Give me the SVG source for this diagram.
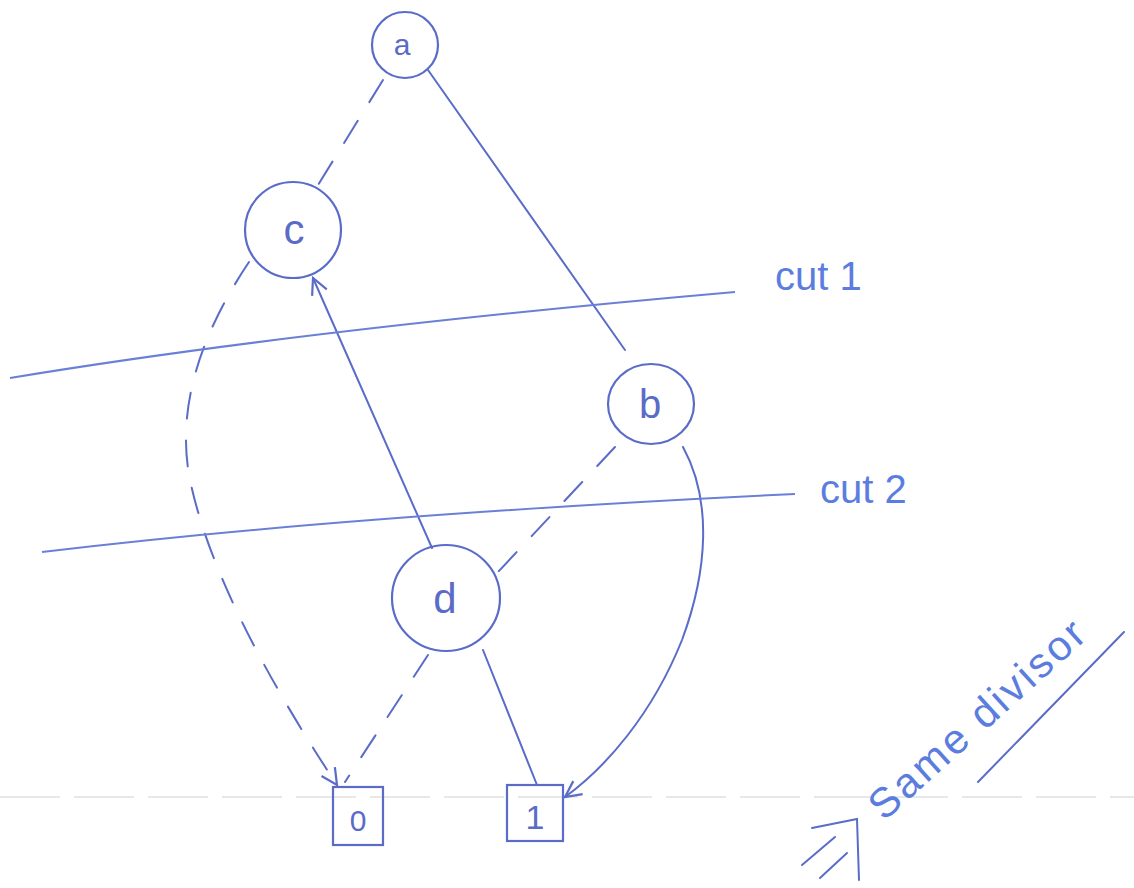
<svg xmlns="http://www.w3.org/2000/svg" width="1134" height="888" viewBox="0 0 1134 888">
<defs>
<style>
.n{fill:none;stroke:#5a6cc8;stroke-width:2.2}
.e{fill:none;stroke:#5a6cc8;stroke-width:2;stroke-linecap:round}
.d{stroke-dasharray:26 22}
.cut{fill:none;stroke:#6a80d6;stroke-width:2}
.t{font-family:"Liberation Sans",sans-serif;fill:#5b7de0}
.lbl{font-family:"Liberation Sans",sans-serif;fill:#5a6cc8;text-anchor:middle}
</style>
<marker id="ar" viewBox="0 0 20 20" refX="18" refY="10" markerWidth="20" markerHeight="20" markerUnits="userSpaceOnUse" orient="auto">
<path d="M2 2 L18 10 L2 18" fill="none" stroke="#5a6cc8" stroke-width="2.2"/>
</marker>
</defs>
<rect width="1134" height="888" fill="#ffffff"/>
<line x1="0" y1="797" x2="1134" y2="797" stroke="#e8e8e8" stroke-width="2" stroke-dasharray="60 14"/>
<g id="connectors">
<path class="e d" d="M383 80 L318 185"/>
<path class="e" d="M428 70 L625 350"/>
<path class="e d" d="M249 262 Q170 380 190 480 Q215 600 337 785" marker-end="url(#ar)"/>
<path class="e" d="M432 548 L313 278" marker-end="url(#ar)"/>
<path class="e d" d="M615 447 L498 572"/>
<path class="e d" d="M428 655 L345 782"/>
<path class="e" d="M483 650 L537 785"/>
<path class="e" d="M683 447 C712 500 708 570 682 640 C652 715 605 768 565 797" marker-end="url(#ar)"/>
</g>
<g id="cuts">
<path class="cut" d="M10 378 Q300 330 735 292"/>
<path class="cut" d="M42 552 Q350 515 795 494"/>
<text class="t" x="775" y="290" font-size="40">cut 1</text>
<text class="t" x="820" y="503" font-size="40">cut 2</text>
</g>
<g id="node-a">
<circle class="n" cx="405" cy="45" r="33"/>
<text class="lbl" x="402" y="55" font-size="30">a</text>
</g>
<g id="node-c">
<circle class="n" cx="293" cy="230" r="48"/>
<text class="lbl" x="294" y="244" font-size="42">c</text>
</g>
<g id="node-b">
<ellipse class="n" cx="651" cy="404" rx="43" ry="40"/>
<text class="lbl" x="650" y="418" font-size="40">b</text>
</g>
<g id="node-d">
<ellipse class="n" cx="446" cy="598" rx="54" ry="53"/>
<text class="lbl" x="445" y="613" font-size="42">d</text>
</g>
<g id="node-0">
<rect class="n" x="333" y="787" width="50" height="58"/>
<text class="lbl" x="358" y="831" font-size="30">0</text>
</g>
<g id="node-1">
<rect class="n" x="507" y="785" width="56" height="56"/>
<text class="lbl" x="535" y="829" font-size="34">1</text>
</g>
<g id="note">
<text class="t" font-size="42" transform="translate(884 822) rotate(-42)" textLength="275">Same divisor</text>
<line class="e" x1="978" y1="782" x2="1124" y2="632"/>
<path class="e" d="M812 828 L857 819 L859 880 M802 865 L835 837 M820 878 L847 853"/>
</g>
</svg>
